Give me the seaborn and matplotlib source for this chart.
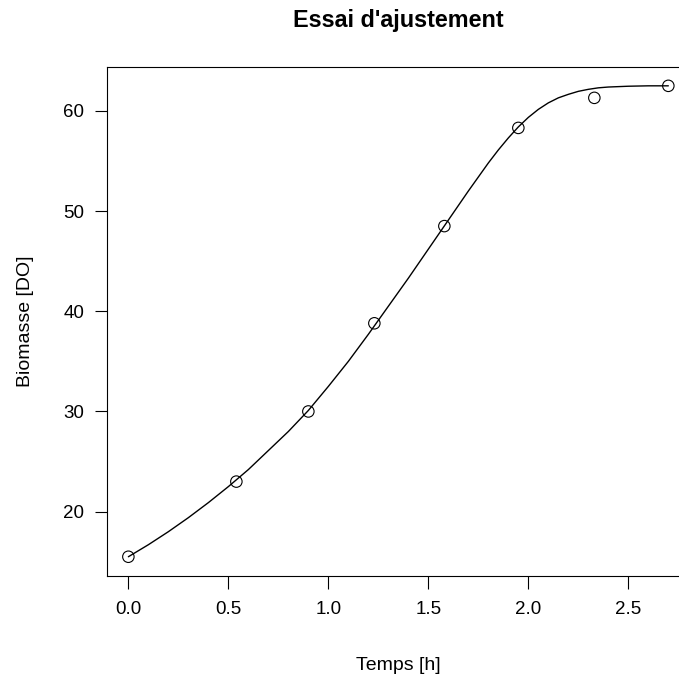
import numpy as np
import pandas as pd
import matplotlib
matplotlib.use("Agg")
import matplotlib.pyplot as plt
import seaborn as sns

# mesures
temps = [0.0, 0.54, 0.90, 1.23, 1.58, 1.95, 2.33, 2.70]
biomasse = [15.5, 23.0, 30.0, 38.8, 48.5, 58.3, 61.3, 62.5]

# courbe ajustee
temps_fit = [0.0, 0.1, 0.2, 0.3, 0.4, 0.5, 0.6, 0.7, 0.8, 0.9, 1.0, 1.1, 1.2, 1.3,
             1.4, 1.5, 1.6, 1.7, 1.8, 1.85, 1.9, 1.95, 2.0, 2.05, 2.1, 2.15, 2.2,
             2.25, 2.3, 2.35, 2.4, 2.5, 2.6, 2.7]
biomasse_fit = [15.5, 16.7, 18.0, 19.4, 20.9, 22.5, 24.2, 26.1, 28.0, 30.1, 32.5, 35.0,
                37.7, 40.5, 43.3, 46.2, 49.1, 52.0, 54.8, 56.1, 57.3, 58.4, 59.35,
                60.15, 60.8, 61.3, 61.65, 61.95, 62.15, 62.3, 62.38, 62.46, 62.5, 62.5]

xticks = [0.0, 0.5, 1.0, 1.5, 2.0, 2.5]
xtick_labels = ["0.0", "0.5", "1.0", "1.5", "2.0", "2.5"]
yticks = [20, 30, 40, 50, 60]

df = pd.DataFrame({"t": temps, "b": biomasse})
df_fit = pd.DataFrame({"t": temps_fit, "b": biomasse_fit})

sns.set_style("ticks")
plt.rcParams["font.family"] = ["Liberation Sans", "DejaVu Sans"]
plt.rcParams["text.color"] = "black"
plt.rcParams["axes.labelcolor"] = "black"

fig = plt.figure(figsize=(6.79, 6.76), dpi=100)
# le cadre depasse a droite comme dans l'original
ax = fig.add_axes([0.1571, 0.1484, 0.859, 0.7525])

sns.lineplot(data=df_fit, x="t", y="b", ax=ax, color="black", linewidth=1.0)
sns.scatterplot(data=df, x="t", y="b", ax=ax, marker="o", s=68,
                facecolors="none", edgecolor="black", linewidth=0.8, zorder=3)

ax.set_xlim(-0.1085, 2.808)
ax.set_ylim(13.61, 64.38)
ax.set_xticks(xticks)
ax.set_xticklabels(xtick_labels)
ax.set_yticks(yticks)
ax.tick_params(axis="both", direction="out", length=9, width=0.8,
               labelsize=13.5, pad=7, colors="black")
ax.tick_params(axis="x", pad=9)
for s in ax.spines.values():
    s.set_visible(True)
    s.set_linewidth(0.8)
    s.set_color("black")

ax.set_xlabel("Temps [h]", fontsize=14, labelpad=28, color="black")
ax.set_ylabel("Biomasse [DO]", fontsize=14, labelpad=21, color="black")
ax.set_title("Essai d'ajustement", fontsize=16.8, fontweight="bold", pad=29,
             color="black")

fig.savefig("out.png", dpi=100)
plt.close(fig)
